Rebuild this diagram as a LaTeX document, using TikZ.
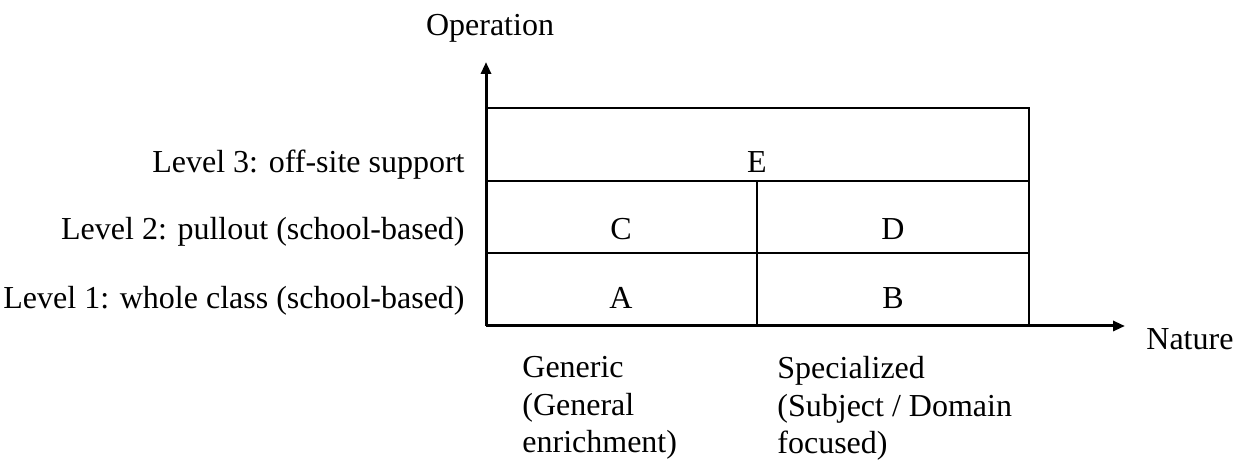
\documentclass[tikz,border=0pt]{standalone}
\usepackage{fontspec}
\setmainfont{Liberation Serif}
\usetikzlibrary{arrows.meta}

\begin{document}
\begin{tikzpicture}[x=0.5pt,y=-0.5pt,
  lbl/.style={inner sep=0pt, font=\fontsize{16}{18.75}\selectfont},
  axis/.style={line width=1.5pt, -{Triangle[length=6pt,width=5pt]}},
  grid/.style={line width=1pt}]
  \useasboundingbox (0,0) rectangle (1240,474);

  % axes
  \coordinate (o) at (486,326);
  \coordinate (ytip) at (486,62);
  \coordinate (xtip) at (1125,326);
  \draw[axis] (o) -- (ytip);
  \draw[axis] (o) -- (xtip);

  % cell grid
  \coordinate (tl) at (486,108);
  \coordinate (tr) at (1029,108);
  \coordinate (br) at (1029,326);
  \coordinate (l3) at (486,181);
  \coordinate (r3) at (1029,181);
  \coordinate (l2) at (486,253);
  \coordinate (r2) at (1029,253);
  \coordinate (mt) at (757,181);
  \coordinate (mb) at (757,326);
  \draw[grid] (tl) -- (tr) -- (br);
  \draw[grid] (l3) -- (r3);
  \draw[grid] (l2) -- (r2);
  \draw[grid] (mt) -- (mb);

  % axis titles
  \node[lbl, anchor=base] (op) at (490,36) {Operation};
  \node[lbl, anchor=base west] (nat) at (1146,350) {Nature};

  % level labels
  \node[lbl, anchor=base east] (lv3) at (465,173) {Level 3: off-site support};
  \node[lbl, anchor=base east] (lv2) at (465,240) {Level 2: pullout (school-based)};
  \node[lbl, anchor=base east] (lv1) at (465,309) {Level 1: whole class (school-based)};

  % cell letters
  \node[lbl, anchor=base] (E) at (757,173) {E};
  \node[lbl, anchor=base] (C) at (621,240) {C};
  \node[lbl, anchor=base] (D) at (893,240) {D};
  \node[lbl, anchor=base] (A) at (621,309) {A};
  \node[lbl, anchor=base] (B) at (893,309) {B};

  % nature categories
  \node[lbl, anchor=north west, align=left] (gen) at (522,356)
    {Generic\\(General\\enrichment)};
  \node[lbl, anchor=north west, align=left] (spec) at (777,356)
    {Specialized\\(Subject / Domain\\focused)};
\end{tikzpicture}
\end{document}
